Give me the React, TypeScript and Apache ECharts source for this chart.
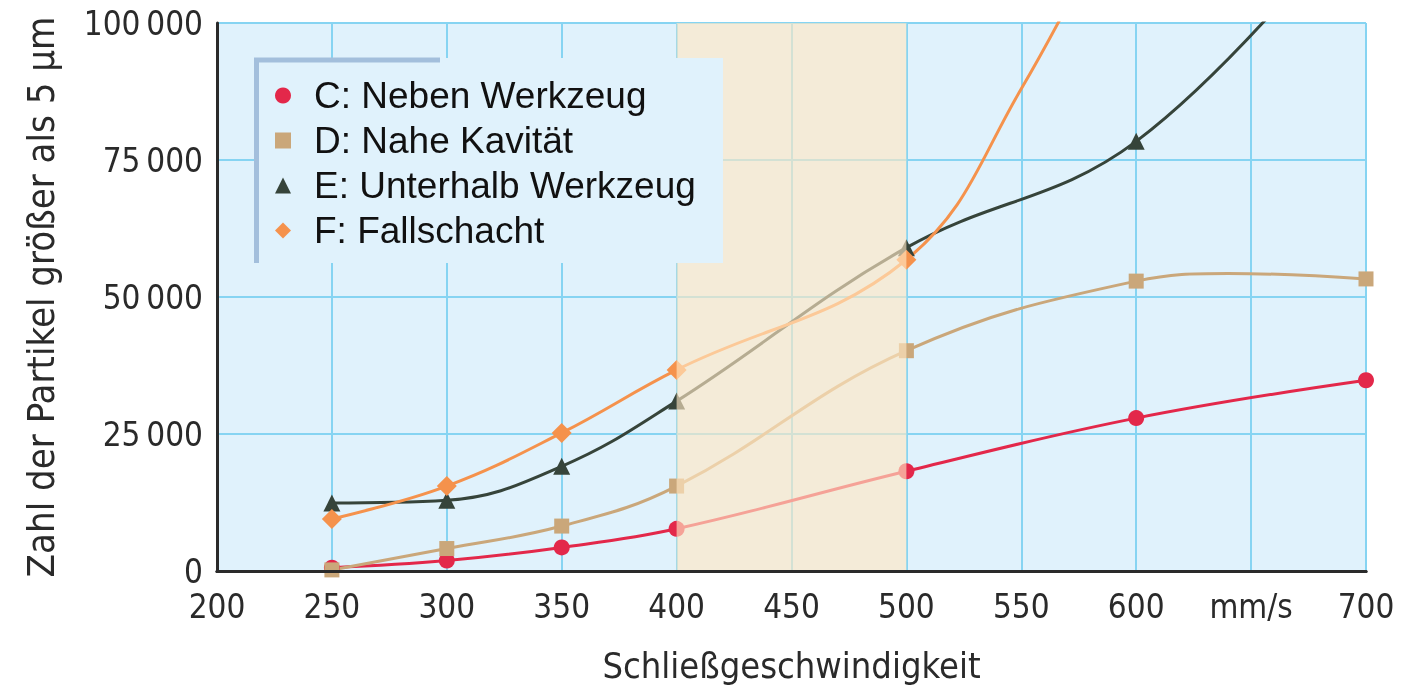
import React, { useEffect, useRef } from 'react';
import * as echarts from 'echarts';

// Schließgeschwindigkeit (mm/s)
const speeds = [250, 300, 350, 400, 500, 600, 700];
// Zahl der Partikel > 5 µm
const seriesC = [600, 1900, 4300, 7700, 18200, 27900, 34800];
const seriesD = [200, 4100, 8200, 15500, 40200, 52900, 53300];
// hump of curve D between 600 and 700 (no marker)
const seriesDCurve = [[640, 54300]];
const seriesE = [12400, 12900, 19100, 31000, 59000, 78400];
// curve continuation above the plot top (no marker)
const seriesEBeyond = [[700, 122000]];
const seriesF = [9500, 15500, 25200, 36700, 56800];
const seriesFBeyond = [[550, 88000], [600, 128000]];

const names = ['C: Neben Werkzeug', 'D: Nahe Kavität', 'E: Unterhalb Werkzeug', 'F: Fallschacht'];
const colors = ['#e3284a', '#caa77a', '#36443a', '#f5924c'];
const symbols = ['circle', 'rect', 'triangle', 'diamond'];
const symbolSizes = [16, 15, 17, 20];

const yTicks = [0, 25000, 50000, 75000, 100000];
const bandRange = [400, 500];

const axisFont = '"DejaVu Sans Condensed", "Liberation Sans Narrow", "DejaVu Sans", sans-serif';
const legendFont = '"Liberation Sans", Arial, sans-serif';

function pairs(vals: number[]) {
  return vals.map((v, i) => [speeds[i], v]);
}

function hidden(pts: number[][]) {
  return pts.map((p) => ({ value: p, symbol: 'none' }));
}

export default function App() {
  const ref = useRef<HTMLDivElement>(null);
  useEffect(() => {
    document.body.style.margin = '0';
    const chart = echarts.init(ref.current!, null, { renderer: 'svg' });
    const dData: any[] = [...pairs(seriesD), ...hidden(seriesDCurve)].sort(
      (a: any, b: any) => (a.value ? a.value[0] : a[0]) - (b.value ? b.value[0] : b[0])
    );
    const dataSets = [
      pairs(seriesC),
      dData,
      [...pairs(seriesE), ...hidden(seriesEBeyond)],
      [...pairs(seriesF), ...hidden(seriesFBeyond)],
    ];
    const series: any[] = names.map((n, i) => ({
      name: n,
      type: 'line',
      data: dataSets[i],
      smooth: 0.4,
      symbol: symbols[i],
      symbolSize: symbolSizes[i],
      showAllSymbol: true,
      lineStyle: { color: colors[i], width: 3 },
      itemStyle: { color: colors[i] },
      clip: true,
      z: 2,
    }));
    series[0].markArea = {
      silent: true,
      z: 10,
      itemStyle: { color: 'rgba(255,231,196,0.64)' },
      data: [[{ xAxis: bandRange[0] }, { xAxis: bandRange[1] }]],
    };
    chart.setOption({
      animation: false,
      grid: {
        left: 217,
        right: 38,
        top: 23,
        bottom: 112,
        show: true,
        backgroundColor: '#e0f2fc',
        borderWidth: 0,
      },
      xAxis: [
        {
          type: 'value',
          min: 200,
          max: 700,
          interval: 50,
          position: 'bottom',
          axisLine: { show: true, lineStyle: { color: '#2a2a2a', width: 3 } },
          axisTick: { show: false },
          axisLabel: {
            fontSize: 33,
            color: '#2a2a2a',
            fontFamily: axisFont,
            margin: 19,
            formatter: (v: number) => (v === 650 ? 'mm/s' : String(v)),
          },
          splitLine: { show: true, lineStyle: { color: '#86d4f2', width: 2 } },
          name: 'Schließgeschwindigkeit',
          nameLocation: 'middle',
          nameGap: 76,
          nameTextStyle: { fontSize: 36, color: '#2a2a2a', fontFamily: axisFont },
        },
        {
          type: 'value',
          min: 200,
          max: 700,
          position: 'bottom',
          z: 15,
          axisLine: { show: true, lineStyle: { color: '#2a2a2a', width: 3 } },
          axisTick: { show: false },
          axisLabel: { show: false },
          splitLine: { show: false },
        },
      ],
      yAxis: {
        type: 'value',
        min: yTicks[0],
        max: yTicks[yTicks.length - 1],
        interval: 25000,
        axisLine: { show: true, lineStyle: { color: '#2a2a2a', width: 3 } },
        axisTick: { show: false },
        axisLabel: {
          fontSize: 33,
          color: '#2a2a2a',
          fontFamily: axisFont,
          margin: 14,
          formatter: (v: number) => String(v).replace(/\B(?=(\d{3})+(?!\d))/g, '\u2009'),
        },
        splitLine: { show: true, lineStyle: { color: '#86d4f2', width: 2 } },
        name: 'Zahl der Partikel größer als 5 µm',
        nameLocation: 'middle',
        nameGap: 157,
        nameRotate: 90,
        nameTextStyle: { fontSize: 38, color: '#2a2a2a', fontFamily: axisFont },
      },
      legend: {
        orient: 'vertical',
        left: 275,
        top: 77,
        padding: 0,
        z: 30,
        itemWidth: 16,
        itemHeight: 16,
        itemGap: 8,
        selectedMode: false,
        data: names.map((n, i) => ({ name: n, icon: symbols[i] })),
        textStyle: {
          fontSize: 37,
          lineHeight: 37,
          color: '#111',
          fontFamily: legendFont,
          padding: [0, 0, 0, 18],
        },
      },
      graphic: [
        {
          type: 'rect',
          z: 20,
          shape: { x: 254, y: 58, width: 469, height: 205 },
          style: { fill: '#e0f2fc' },
        },
        {
          type: 'line',
          z: 21,
          shape: { x1: 254, y1: 60, x2: 440, y2: 60 },
          style: { stroke: '#a3bfdc', lineWidth: 5 },
        },
        {
          type: 'line',
          z: 21,
          shape: { x1: 256.5, y1: 58, x2: 256.5, y2: 263 },
          style: { stroke: '#a3bfdc', lineWidth: 5 },
        },
      ],
      series,
    });
    return () => chart.dispose();
  }, []);
  return (
    <div
      ref={ref}
      style={{ position: 'fixed', left: 0, top: 0, width: 1404, height: 688 }}
    />
  );
}
